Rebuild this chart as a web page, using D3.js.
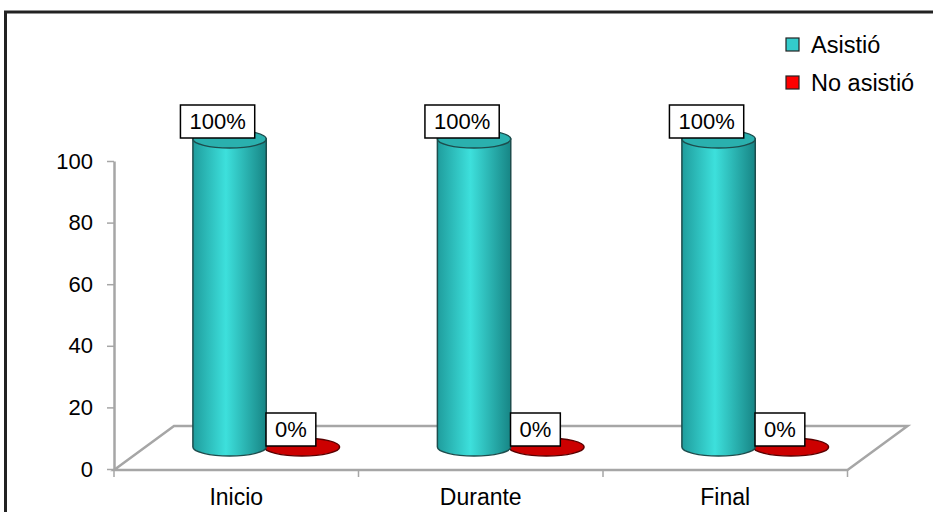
<!DOCTYPE html>
<html>
<head>
<meta charset="utf-8">
<script src="https://cdn.jsdelivr.net/npm/d3@7"></script>
<style>
  html, body { margin: 0; padding: 0; background: #fff; }
  svg { display: block; font-family: "Liberation Sans", Arial, sans-serif; }
</style>
</head>
<body>
<svg id="chart" width="933" height="512"></svg>
<script>
// Attendance per stage (percent)
const categories = ["Inicio", "Durante", "Final"];
const series = ["Asistió", "No asistió"];
const asistio = [100, 100, 100];
const noAsistio = [0, 0, 0];
const yTicks = [0, 20, 40, 60, 80, 100];

const values = [asistio, noAsistio];
const colors = { "Asistió": "#33cccc", "No asistió": "#ff0000" };

const svg = d3.select("#chart");
const W = 933, H = 512;

// outer frame
svg.append("rect")
  .attr("x", 5.5).attr("y", 12)
  .attr("width", W + 20).attr("height", H + 20)
  .attr("fill", "none").attr("stroke", "#222").attr("stroke-width", 3);

// plot geometry (front plane) and 3D depth offset
const plotLeft = 114, plotRight = 847.5;
const dx = 60, dy = -44;            // full depth of the floor
const mdx = dx / 2, mdy = dy / 2;   // bars sit in the middle of the depth

const x0 = d3.scaleBand().domain(categories).range([plotLeft, plotRight]).padding(0);
const x1 = d3.scaleBand().domain(series)
  .range([x0.bandwidth() * 0.2, x0.bandwidth() * 0.8]).padding(0);
const y = d3.scaleLinear().domain([0, 100]).range([469, 161]);

const grey = "#a6a6a6";
const defs = svg.append("defs");
const grad = defs.append("linearGradient").attr("id", "cyl")
  .attr("x1", "0%").attr("x2", "100%").attr("y1", "0%").attr("y2", "0%");
grad.append("stop").attr("offset", "0%").attr("stop-color", "#1f9d9d");
grad.append("stop").attr("offset", "45%").attr("stop-color", "#3de0dc");
grad.append("stop").attr("offset", "100%").attr("stop-color", "#178585");

// floor
const y0 = y(0) + 1;
const floor = svg.append("g");
floor.append("path")
  .attr("d", `M${plotLeft},${y0} L${plotLeft + dx},${y0 + dy} L${plotRight + dx},${y0 + dy} L${plotRight},${y0} Z`)
  .attr("fill", "none").attr("stroke", grey).attr("stroke-width", 2.5)
  .attr("stroke-linejoin", "miter");

// category boundary ticks
const bounds = categories.map(c => x0(c)).concat([plotRight]);
floor.selectAll("line.ctick").data(bounds).join("line")
  .attr("class", "ctick")
  .attr("x1", d => d).attr("x2", d => d)
  .attr("y1", y0).attr("y2", y0 + 7)
  .attr("stroke", grey).attr("stroke-width", 1.5);

// y axis
const yAxis = d3.axisLeft(y).tickValues(yTicks).tickSize(7).tickPadding(14).tickSizeOuter(0);
const gy = svg.append("g").attr("transform", `translate(${plotLeft},0)`).call(yAxis);
gy.select(".domain").attr("stroke", grey).attr("stroke-width", 2.5);
gy.selectAll(".tick line").attr("stroke", grey).attr("stroke-width", 1.5);
gy.selectAll(".tick text").attr("fill", "#000")
  .style("font-size", "22px").style("font-family", "Liberation Sans, Arial, sans-serif");

// category labels
svg.append("g").selectAll("text").data(categories).join("text")
  .attr("x", d => x0(d) + x0.bandwidth() / 2)
  .attr("y", 505)
  .attr("text-anchor", "middle")
  .style("font-size", "23px")
  .text(d => d);

// bars as cylinders
const bars = [];
series.forEach((s, si) => {
  categories.forEach((c, ci) => {
    bars.push({ s, c, v: values[si][ci] });
  });
});

const rx = x1.bandwidth() / 2;
const ry = 9;
const gBars = svg.append("g");
// draw red first so cyan cylinders overlap it
const order = ["No asistió", "Asistió"];
order.forEach(s => {
  bars.filter(b => b.s === s).forEach(b => {
    const cx = x0(b.c) + x1(b.s) + rx + mdx;
    const yb = y(0) + mdy;
    const yt = y(b.v) + mdy;
    const g = gBars.append("g");
    if (b.v > 0) {
      g.append("path")
        .attr("d", `M${cx - rx},${yt} L${cx - rx},${yb} A${rx},${ry} 0 0 0 ${cx + rx},${yb} L${cx + rx},${yt} Z`)
        .attr("fill", "url(#cyl)").attr("stroke", "#1d4d4d").attr("stroke-width", 1.5);
      g.append("ellipse")
        .attr("cx", cx).attr("cy", yt).attr("rx", rx).attr("ry", ry)
        .attr("fill", "#2ab0ae").attr("stroke", "#1d4d4d").attr("stroke-width", 1.5);
    } else {
      g.append("ellipse")
        .attr("cx", cx - 1).attr("cy", yb).attr("rx", rx + 1).attr("ry", ry)
        .attr("fill", "#cc0000").attr("stroke", "#5a0000").attr("stroke-width", 1.5);
    }
  });
});

// value labels
const gLab = svg.append("g");
bars.forEach(b => {
  const cx = x0(b.c) + x1(b.s) + rx + mdx - 12;
  const yt = y(b.v) + mdy;
  const txt = b.v + "%";
  const g = gLab.append("g");
  const t = g.append("text")
    .attr("x", cx).attr("y", yt - 10)
    .attr("text-anchor", "middle")
    .style("font-size", "22px")
    .text(txt);
  const bb = t.node().getBBox();
  g.insert("rect", "text")
    .attr("x", bb.x - 9).attr("y", yt - 34)
    .attr("width", bb.width + 18).attr("height", 33)
    .attr("fill", "#fff").attr("stroke", "#000").attr("stroke-width", 1.5);
});

// legend
const legend = svg.append("g");
series.forEach((s, i) => {
  const ly = 45 + i * 38;
  legend.append("rect")
    .attr("x", 786).attr("y", ly - 7).attr("width", 13).attr("height", 13)
    .attr("fill", colors[s]).attr("stroke", "#222").attr("stroke-width", 1.2);
  legend.append("text")
    .attr("x", 811).attr("y", ly + 8)
    .style("font-size", "23.5px")
    .text(s);
});
</script>
</body>
</html>
